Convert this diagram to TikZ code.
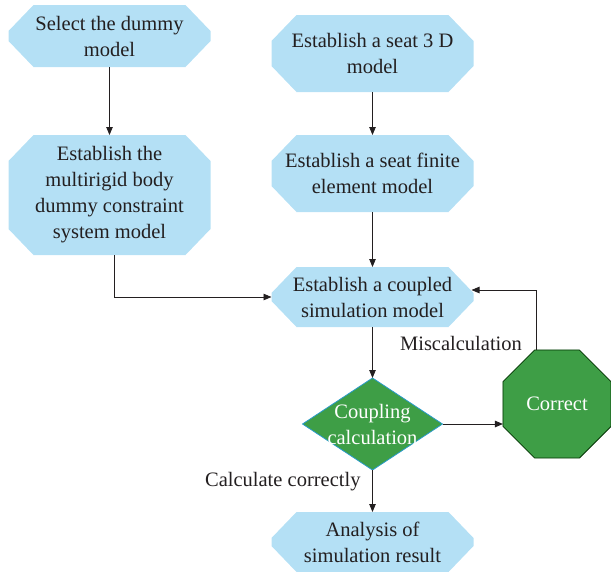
\documentclass[tikz,border=0pt]{standalone}
\usepackage{fontspec}
\setmainfont{Liberation Serif}
\usepackage{tikz}
\usetikzlibrary{positioning,shapes.geometric,arrows.meta}

\definecolor{boxblue}{RGB}{180,224,245}
\definecolor{stepgreen}{RGB}{62,158,70}
\definecolor{inkgray}{RGB}{35,31,32}

\begin{document}
\begin{tikzpicture}[x=1pt,y=-1pt,
    font=\fontsize{20.5}{26}\selectfont, text=inkgray,
    procnode/.style={rectangle, draw=none, minimum width=202pt, inner sep=0pt, outer sep=0pt, align=center,
        path picture={
            \fill[boxblue] ([xshift=25pt]path picture bounding box.north west)
                -- ([xshift=-25pt]path picture bounding box.north east)
                -- ([yshift=-26pt]path picture bounding box.north east)
                -- ([yshift=26pt]path picture bounding box.south east)
                -- ([xshift=-25pt]path picture bounding box.south east)
                -- ([xshift=25pt]path picture bounding box.south west)
                -- ([yshift=26pt]path picture bounding box.south west)
                -- ([yshift=-26pt]path picture bounding box.north west) -- cycle;}},
    decnode/.style={diamond, fill=stepgreen, draw=cyan!60!teal, line width=0.8pt,
        minimum width=140pt, minimum height=92pt, inner sep=0pt, outer sep=0pt},
    fixnode/.style={regular polygon, regular polygon sides=8, fill=stepgreen, draw=black!80!green,
        line width=0.8pt, minimum size=117pt, inner sep=0pt, outer sep=0pt},
    link/.style={draw=inkgray, line width=0.9pt, -{Triangle[length=8pt,width=6.5pt]}}]

    \useasboundingbox (0,0) rectangle (611,571);

    % left column
    \node[procnode, minimum height=62pt] (dummy) at (109.5,36) {Select the dummy\\model};
    \node[procnode, minimum height=120pt] (rigid) [below=68pt of dummy] {Establish the\\multirigid body\\dummy constraint\\system model};

    % right column
    \node[procnode, minimum height=77pt] (seat) at (372.5,53.5) {Establish a seat 3 D\\model};
    \node[procnode, minimum height=77pt] (fem) [below=43pt of seat] {Establish a seat finite\\element model};
    \node[procnode, minimum height=60pt] (couple) [below=55pt of fem] {Establish a coupled\\simulation model};
    \node[decnode] (calc) [below=51pt of couple] {};
    \node[text=white, align=center] (calctext) at (calc) {Coupling\\calculation};
    \node[procnode, minimum height=60pt] (result) [below=42pt of calc] {Analysis of\\simulation result};
    \node[fixnode] (fix) at (557,404) {};
    \node[text=white] (fixtext) at (fix) {Correct};

    % connectors
    \draw[link] (dummy) -- (rigid);
    \draw[link] (seat) -- (fem);
    \draw[link] (fem) -- (couple);
    \draw[link] ([xshift=5pt]rigid.south) |- (couple.west);
    \draw[link] (couple) -- (calc);
    \draw[link] (calc.east) -- (calc.east -| fix.west);
    \draw[link] ([xshift=-21pt]fix.north) |- ([xshift=-2pt,yshift=7pt]couple.east);
    \draw[link] (calc) -- (result);

    % labels
    \node (miss) at (461,343) {Miscalculation};
    \node[anchor=east] (okay) at (364,482) {Calculate correctly};

\end{tikzpicture}
\end{document}
